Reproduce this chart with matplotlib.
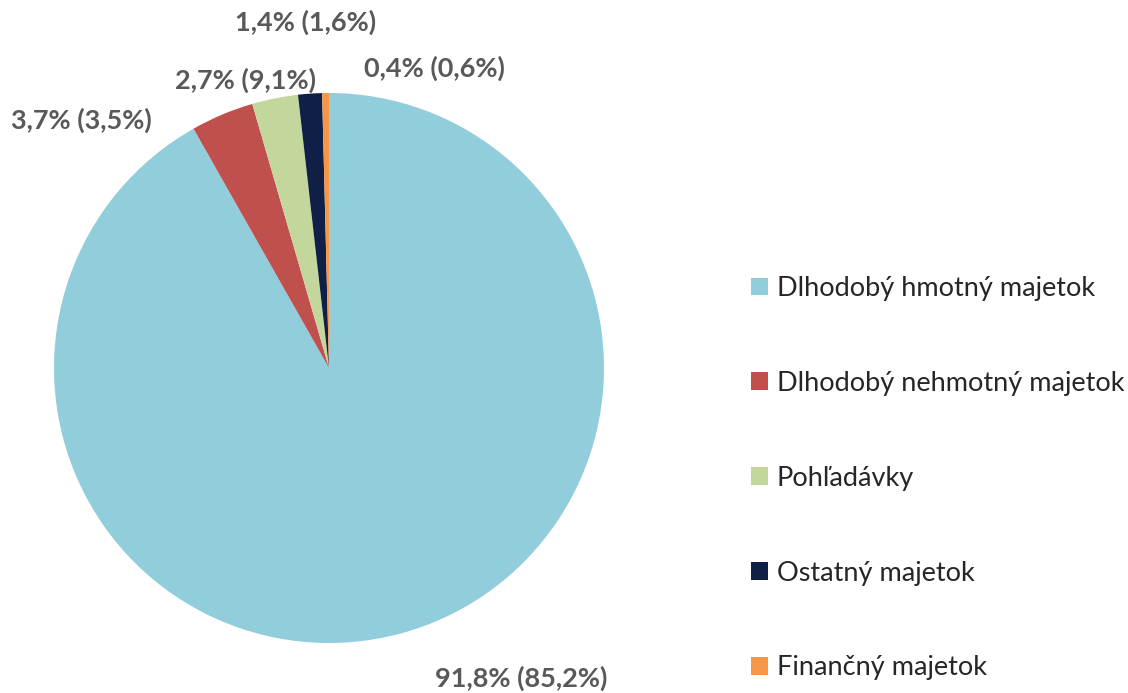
"""Pie chart of asset structure (share in %, previous period in brackets)"""

import matplotlib
matplotlib.use("Agg")
import matplotlib.pyplot as plt
from matplotlib.patches import Patch

# Data
categories = ["Dlhodobý hmotný majetok", "Dlhodobý nehmotný majetok", "Pohľadávky",
              "Ostatný majetok", "Finančný majetok"]
share_now = [91.8, 3.7, 2.7, 1.4, 0.4]
share_prev = [85.2, 3.5, 9.1, 1.6, 0.6]
colors = ["#92CDDC", "#C0504D", "#C3D69B", "#0F1F45", "#F79646"]

# Label anchor points in pie units (radius = 1)
label_pos = [(0.70, -1.13), (-0.90, 0.90), (-0.305, 1.047), (-0.087, 1.258), (0.385, 1.091)]

plt.rcParams["font.family"] = ["Lato", "DejaVu Sans"]

fig = plt.figure(figsize=(11.28, 6.93), dpi=100)
ax = fig.add_axes([54 / 1128, 50 / 693, 550 / 1128, 550 / 693])

wedges, _ = ax.pie(share_now, colors=colors, startangle=90, counterclock=False,
                   radius=1, wedgeprops=dict(linewidth=0))
ax.set_xlim(-1, 1)
ax.set_ylim(-1, 1)
ax.set_aspect("equal")

def fmt(v):
    return f"{v:.1f}".replace(".", ",")

for (x, y), a, b in zip(label_pos, share_now, share_prev):
    ax.text(x, y, f"{fmt(a)}% ({fmt(b)}%)", ha="center", va="center",
            fontsize=19.5, fontweight="bold", color="#595959", clip_on=False)

handles = [Patch(facecolor=c, edgecolor="none") for c in colors]
fig.legend(handles, categories, loc="center left", bbox_to_anchor=(0.6445, 0.310),
           frameon=False, fontsize=19.5, labelcolor="#262626",
           handlelength=0.63, handleheight=0.63, handletextpad=0.3, labelspacing=2.58)

fig.savefig("out.png", dpi=100)
